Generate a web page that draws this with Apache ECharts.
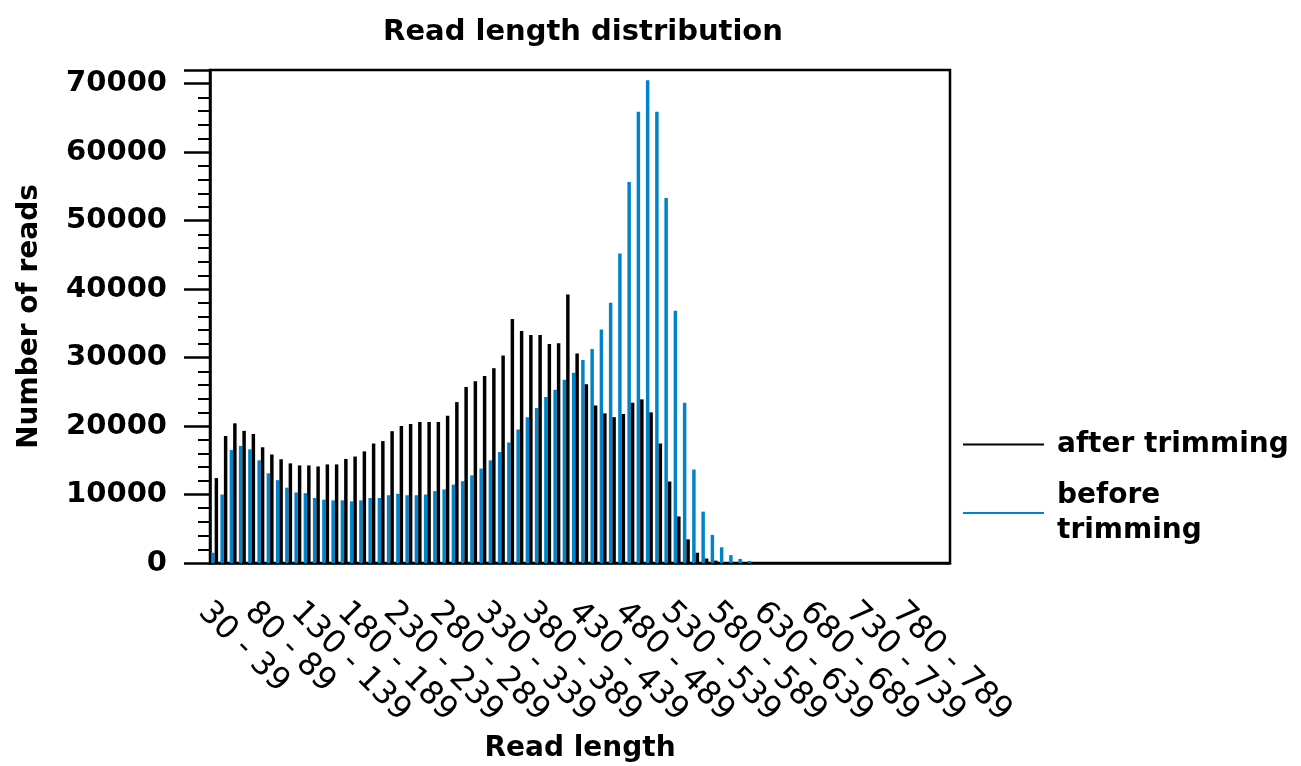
<!DOCTYPE html>
<html><head><meta charset="utf-8">
<script src="https://cdn.jsdelivr.net/npm/echarts@6/dist/echarts.min.js"></script>
<style>html,body{margin:0;padding:0;background:#fff}#c{width:1301px;height:766px}</style>
</head><body><div id="c"></div>
<script>
// Category bin starts (read length bins of width 10)
const binStarts = [30,40,50,60,70,80,90,100,110,120,130,140,150,160,170,180,190,200,210,220,
  230,240,250,260,270,280,290,300,310,320,330,340,350,360,370,380,390,400,410,420,
  430,440,450,460,470,480,490,500,510,520,530,540,550,560,570,580,590,600,610,620,
  630,640,650,660,670,680,690,700,710,720,730,740,750,760,770,780,790,800,810,820];
const categories = binStarts.map(s => s + ' - ' + (s + 9));

const beforeTrimming = [1500,10000,16500,17100,16600,15000,13100,12100,11000,10300,
  10200,9500,9250,9150,9150,9000,9150,9500,9500,9900,
  10100,9900,9900,10000,10500,10750,11450,11950,12800,13800,
  15000,16200,17600,19500,21300,22650,24250,25300,26750,27800,
  29650,31250,34100,38000,45200,55650,65900,70500,65900,53300,
  36850,23400,13650,7500,4100,2300,1150,600,300,0,
  0,0,0,0,0,0,0,0,0,0,
  0,0,0,0,0,0,0,0,0,0];

const afterTrimming = [12400,18550,20400,19300,18850,16900,15850,15150,14550,14250,
  14250,14100,14400,14400,15200,15550,16300,17450,17800,19250,
  20000,20300,20600,20600,20600,21500,23500,25700,26550,27300,
  28450,30300,35650,33900,33300,33300,32000,32100,39200,30600,
  26100,23000,21850,21300,21750,23400,23900,22000,17450,11900,
  6800,3450,1500,650,350,100,0,0,0,0,
  0,0,0,0,0,0,0,0,0,0,
  0,0,0,0,0,0,0,0,0,0];

const yMax = 72000;
const yInterval = 10000;

const FONT = 'DejaVu Sans';
const BLUE = '#0083c8';

const chart = echarts.init(document.getElementById('c'), null, {renderer: 'canvas'});
chart.setOption({
  animation: false,
  backgroundColor: '#fff',
  title: {
    text: 'Read length distribution',
    left: 578, top: 13, textAlign: 'center',
    textStyle: {fontFamily: FONT, fontSize: 29, fontWeight: 'bold', color: '#000'}
  },
  legend: {
    orient: 'vertical', left: 963, top: 427, padding: 0,
    itemWidth: 81, itemHeight: 2, itemGap: 16, icon: 'rect',
    data: ['after trimming', 'before trimming'],
    formatter: n => n === 'before trimming' ? 'before\ntrimming' : n,
    textStyle: {fontFamily: FONT, fontSize: 28, fontWeight: 'bold', color: '#000', lineHeight: 35, padding: [0, 0, 0, 8]}
  },
  grid: {left: 210, right: 351, top: 70, bottom: 203, show: true, borderColor: '#000', borderWidth: 2.5,
    outerBoundsMode: 'none', containLabel: false},
  xAxis: {
    type: 'category', data: categories, boundaryGap: true,
    axisLine: {lineStyle: {color: '#000', width: 2.5}},
    axisTick: {show: false},
    axisLabel: {interval: 4, rotate: -45, align: 'left', verticalAlign: 'top', margin: 33,
      fontFamily: FONT, fontSize: 32, color: '#000'},
    name: 'Read length', nameLocation: 'middle', nameGap: 172,
    nameTextStyle: {fontFamily: FONT, fontSize: 28, fontWeight: 'bold', color: '#000'}
  },
  yAxis: {
    type: 'value', min: 0, max: yMax, interval: yInterval,
    axisLine: {show: true, lineStyle: {color: '#000', width: 2.5}},
    axisTick: {show: true, length: 26, lineStyle: {color: '#000', width: 2.5}},
    minorTick: {show: true, splitNumber: 5, length: 12, lineStyle: {color: '#000', width: 2}},
    splitLine: {show: false},
    axisLabel: {margin: 43, showMaxLabel: false, formatter: v => String(v),
      fontFamily: FONT, fontSize: 29, fontWeight: 'bold', color: '#000'},
    name: 'Number of reads', nameLocation: 'middle', nameGap: 166,
    nameTextStyle: {fontFamily: FONT, fontSize: 28, fontWeight: 'bold', color: '#000'}
  },
  series: [
    {name: 'before trimming', type: 'bar', data: beforeTrimming, itemStyle: {color: BLUE},
     barGap: '0%', barCategoryGap: '25%'},
    {name: 'after trimming', type: 'bar', data: afterTrimming, itemStyle: {color: '#000'}}
  ]
});
</script>
</body></html>
